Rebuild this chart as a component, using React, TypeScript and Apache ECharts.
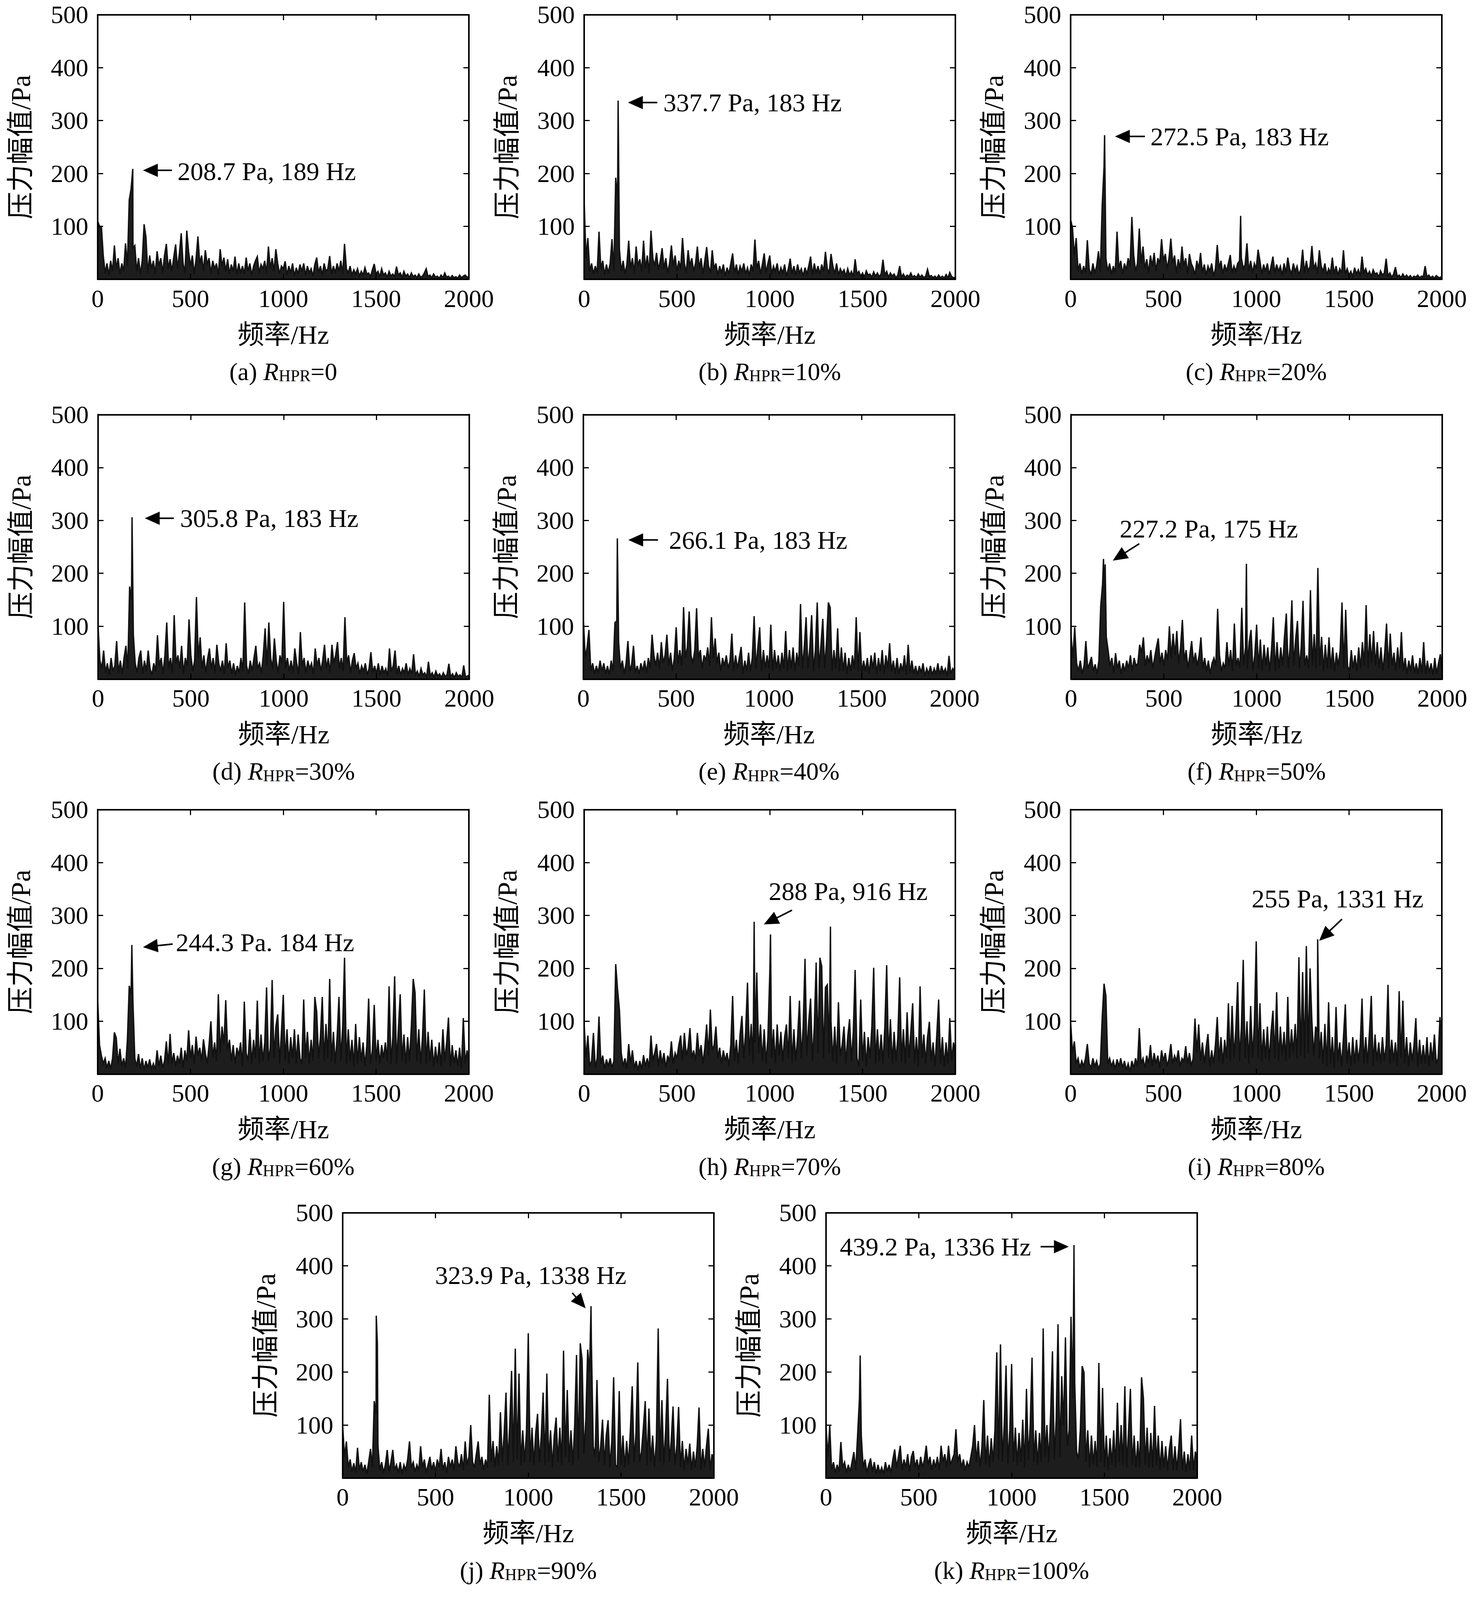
import React, { useEffect, useRef } from "react";
import * as echarts from "echarts";

const SERIF = "'Liberation Serif', 'Times New Roman', 'Noto Sans CJK SC', serif";
const X_NAME = "频率/Hz";
const Y_NAME = "压力幅值/Pa";
const X_TICKS = [0, 500, 1000, 1500, 2000];
const Y_TICKS = [0, 100, 200, 300, 400, 500];
const FREQ_STEP = 10; // spectrum sampled every 10 Hz, 0..2000 Hz

// ---- spectrum amplitudes (Pa), one value per 10 Hz ----
const ampA = [
  110,100,100,45,12,30,8,35,15,64,
  20,40,10,30,15,68,25,150,171,60,
  64,15,40,10,35,104,80,12,45,20,
  35,10,53,25,40,12,45,67,20,38,
  15,42,66,20,48,87,30,12,92,52,
  25,45,10,38,81,30,45,15,55,28,
  40,12,35,20,30,8,57,25,41,15,
  38,10,28,15,43,8,30,12,25,10,
  41,15,30,8,25,35,43,12,28,20,
  35,12,62,20,40,15,57,30,10,25,
  20,34,8,25,12,30,6,22,10,28,
  15,30,8,25,12,20,6,28,41,12,
  25,8,30,15,20,44,10,25,12,30,
  15,35,10,67,20,12,25,8,18,10,
  20,6,15,8,22,10,12,5,18,29,
  10,15,5,20,8,12,4,15,6,10,
  5,24,8,12,4,15,6,10,3,12,
  5,8,3,10,4,6,12,20,5,8,
  3,10,4,6,2,8,3,12,4,6,
  2,7,3,5,2,8,3,6,8,4,
  5,
];
const peaksA = [[189, 208.7]];

const ampB = [
  148,40,78,15,30,10,25,12,90,20,
  35,8,28,12,30,76,15,192,150,57,
  15,35,10,28,73,20,40,12,62,25,
  38,15,73,20,45,12,92,40,25,50,
  18,35,59,20,40,12,30,64,25,45,
  15,35,20,78,30,12,55,25,40,15,
  30,62,20,40,10,35,61,25,12,55,
  20,30,8,25,12,28,6,22,10,30,
  49,12,28,8,25,15,30,10,22,8,
  28,15,75,20,35,10,28,49,12,30,
  45,10,25,15,30,8,22,12,28,6,
  20,39,10,25,8,28,12,20,6,22,
  10,25,43,8,30,12,25,10,28,15,
  52,20,12,48,25,10,30,8,20,12,
  18,6,20,8,15,5,38,10,15,6,
  12,4,16,8,10,4,14,6,12,5,
  10,37,8,15,4,12,6,10,3,8,
  25,4,10,3,8,5,12,4,7,3,
  10,4,8,3,6,19,5,7,3,6,
  2,8,3,6,2,9,3,13,5,3,
  4,
];
const peaksB = [[183, 337.7]];

const ampC = [
  113,97,45,78,15,30,10,25,12,74,
  20,8,30,12,25,53,15,139,213,40,
  15,30,10,25,12,90,20,35,10,30,
  18,40,25,118,45,15,30,96,30,62,
  20,38,12,45,25,50,15,40,30,76,
  35,48,20,40,77,30,45,12,38,20,
  62,25,40,10,48,30,22,8,35,20,
  50,12,28,8,25,15,30,6,20,65,
  20,35,10,28,15,30,46,12,25,15,
  30,35,40,20,28,68,15,35,12,30,
  20,56,35,10,28,15,30,8,25,43,
  12,28,15,25,8,30,12,41,20,10,
  30,15,25,8,20,56,12,35,15,25,
  63,20,30,12,55,25,15,30,8,20,
  12,41,10,25,8,20,12,55,10,20,
  8,15,5,22,10,18,6,43,12,20,
  8,15,5,18,10,12,4,16,8,12,
  39,6,12,4,10,23,5,8,3,10,
  4,8,3,7,2,6,4,8,3,6,
  5,25,4,8,3,6,2,7,4,3,
  6,
];
const peaksC = [[183, 272.5], [916, 120]];

const ampD = [
  100,35,20,54,12,30,8,40,15,25,
  72,12,35,10,40,63,20,175,150,84,
  30,12,40,54,10,35,15,54,20,8,
  30,15,83,25,40,10,45,107,20,40,
  12,121,30,45,20,63,10,40,25,113,
  45,15,35,155,40,79,20,45,12,38,
  58,20,40,12,65,30,15,35,10,68,
  20,35,10,30,8,25,12,40,15,145,
  25,10,35,15,40,63,20,30,12,45,
  96,25,107,40,20,77,35,12,45,30,
  146,20,40,15,35,12,58,30,10,89,
  25,40,12,35,20,30,10,58,25,40,
  15,35,65,20,40,12,65,30,45,70,
  20,40,15,117,30,45,12,35,49,20,
  30,10,25,15,30,8,20,51,12,25,
  10,30,8,25,12,20,6,58,15,25,
  54,10,25,8,20,12,30,8,20,10,
  47,8,15,5,20,8,12,4,33,6,
  12,4,15,6,10,3,12,5,8,29,
  4,10,3,12,5,8,3,26,4,6,
  8,
];
const peaksD = [[183, 305.8]];

const ampE = [
  114,40,60,93,15,30,10,25,12,35,
  15,30,10,25,8,35,15,107,110,70,
  20,35,10,30,72,15,28,63,12,25,
  10,30,15,35,12,40,20,84,45,25,
  50,20,70,30,45,84,25,50,15,40,
  98,30,55,25,136,40,60,128,45,30,
  55,134,40,55,20,45,35,60,25,117,
  40,77,30,50,15,40,25,45,20,35,
  86,15,45,20,40,61,10,35,15,50,
  15,40,119,20,60,98,15,55,20,45,
  20,103,15,55,20,45,15,50,20,91,
  15,55,20,60,15,50,25,142,20,60,
  117,20,60,121,15,55,145,20,65,114,
  20,70,145,135,15,55,20,96,15,60,
  15,50,10,40,15,45,20,117,15,89,
  10,35,15,40,10,45,20,50,10,40,
  15,55,10,45,20,68,15,35,10,40,
  10,30,15,45,8,65,12,35,10,25,
  8,25,12,30,6,20,10,25,8,20,
  10,30,8,25,12,20,6,44,10,20,
  15,
];
const peaksE = [[183, 266.1]];

const ampF = [
  84,40,98,30,15,35,10,25,72,20,
  30,42,15,28,10,35,138,180,150,80,
  54,25,40,12,49,20,35,10,30,15,
  35,20,45,15,40,25,30,65,50,79,
  25,45,30,55,20,40,60,77,30,50,
  25,55,35,100,40,86,45,91,30,60,
  112,35,55,20,45,72,30,50,25,45,
  79,20,40,15,35,10,30,40,25,133,
  45,15,30,20,70,25,55,15,105,25,
  40,20,135,25,60,20,70,93,15,45,
  103,20,75,15,65,25,60,15,55,117,
  15,70,20,60,25,80,124,20,60,149,
  25,75,110,20,60,148,25,45,20,168,
  25,85,20,210,25,80,15,65,20,79,
  20,60,15,50,25,55,145,20,131,25,
  15,55,20,45,15,60,20,70,25,140,
  20,85,30,91,25,70,20,60,15,50,
  105,20,86,25,50,15,60,20,89,15,
  40,10,35,15,45,12,30,10,40,12,
  70,10,35,12,30,8,40,10,30,47,
  15,
];
const peaksF = [[175, 227.2], [184, 217], [945, 218]];

const ampG = [
  141,55,35,20,30,12,25,10,30,79,
  69,20,48,15,30,12,64,167,150,136,
  30,15,38,10,30,8,25,12,28,10,
  20,8,45,15,35,12,25,62,18,76,
  20,40,15,35,20,50,12,45,25,83,
  30,55,20,71,35,50,25,66,40,20,
  55,100,30,60,25,151,40,90,55,140,
  45,65,25,55,20,50,35,60,15,137,
  40,25,85,20,65,30,139,20,75,25,
  60,164,25,50,178,30,90,113,20,80,
  150,25,85,20,70,30,85,20,75,30,
  20,141,30,80,20,65,25,146,118,30,
  70,146,25,95,30,180,25,80,20,70,
  146,25,90,220,20,85,25,65,15,95,
  20,70,25,60,15,55,143,20,45,131,
  25,65,20,55,30,60,25,166,20,70,
  185,20,85,151,25,75,20,70,25,90,
  180,154,25,85,20,70,160,20,80,25,
  65,15,52,20,60,15,85,25,60,107,
  15,55,20,45,15,50,10,106,20,45,
  20,
];
const peaksG = [[184, 244.3]];

const ampH = [
  94,30,73,15,25,78,12,30,109,20,
  35,10,28,15,30,12,25,208,160,122,
  40,15,30,10,57,20,45,12,25,8,
  25,10,36,15,30,12,73,25,40,57,
  15,45,20,40,12,35,25,62,20,40,
  30,55,73,25,78,35,50,87,30,45,
  25,78,35,55,20,50,94,35,122,45,
  55,90,30,50,20,45,25,40,15,55,
  148,25,65,20,75,110,30,80,173,35,
  95,20,60,192,40,94,25,85,20,70,
  190,30,85,20,94,35,80,25,70,94,
  30,148,20,85,25,70,139,30,90,218,
  35,100,143,25,90,211,40,220,204,30,
  164,169,40,100,25,90,20,136,35,55,
  90,20,70,104,25,80,197,30,15,141,
  25,80,15,70,30,90,201,20,85,25,
  75,20,90,206,30,104,20,80,25,70,
  183,25,85,20,117,30,80,134,20,70,
  15,166,30,75,20,70,99,25,60,15,
  75,141,20,70,15,60,20,106,25,60,
  30,
];
const peaksH = [[916, 288], [1004, 264], [1327, 279]];

const ampI = [
  99,40,62,20,30,12,25,15,30,57,
  20,12,30,15,25,10,20,106,171,148,
  20,30,15,25,10,28,15,30,12,25,
  8,20,5,25,12,30,15,87,20,30,
  12,35,20,55,15,40,20,35,12,45,
  25,40,15,30,57,20,35,25,45,15,
  30,25,53,20,40,15,30,105,40,94,
  25,60,20,50,76,15,45,20,55,108,
  25,70,20,65,30,134,25,129,30,85,
  174,25,90,216,30,100,20,129,30,95,
  251,30,134,25,85,30,90,25,80,120,
  30,155,25,90,35,80,25,146,30,85,
  40,95,30,221,35,193,30,242,40,200,
  100,35,90,80,30,80,20,95,15,136,
  20,70,10,127,25,60,15,70,132,20,
  60,15,70,20,65,25,55,143,20,70,
  20,80,148,15,75,25,60,20,70,25,
  55,169,20,65,25,60,15,157,30,139,
  20,70,15,60,25,55,106,15,65,20,
  55,20,70,15,60,25,75,20,30,108,
  40,
];
const peaksI = [[1331, 255]];

const ampJ = [
  98,40,69,20,35,12,28,10,57,15,
  30,12,25,8,30,55,20,145,120,62,
  15,30,10,25,53,12,30,53,15,25,
  10,30,8,25,15,35,69,20,30,12,
  25,15,60,20,35,10,25,40,15,30,
  12,35,20,55,15,30,10,40,20,35,
  15,60,30,20,45,15,69,25,40,100,
  30,20,45,69,25,40,15,35,20,157,
  30,70,20,60,25,124,30,85,161,25,
  100,202,30,244,35,197,25,90,30,85,
  273,30,95,25,85,121,30,80,161,25,
  197,30,90,20,80,114,30,95,25,240,
  40,166,30,90,25,100,232,35,254,223,
  45,110,242,200,256,60,40,185,30,60,
  110,25,80,109,20,70,190,25,20,164,
  25,80,20,70,25,90,173,30,85,218,
  30,50,95,145,25,131,30,80,20,70,
  282,30,147,25,90,187,30,70,135,25,
  60,134,20,70,15,55,25,65,15,50,
  20,60,133,15,55,20,60,93,15,45,
  30,
];
const peaksJ = [[181, 306], [187, 254], [1338, 323.9]];

const ampK = [
  99,40,99,15,30,10,25,12,68,20,
  30,10,25,12,30,49,15,80,150,80,
  20,35,10,25,37,12,30,8,25,10,
  20,8,30,12,25,10,35,54,20,40,
  61,15,35,20,45,12,40,51,20,35,
  15,40,20,35,61,25,40,15,35,20,
  40,15,61,30,45,20,61,25,35,45,
  92,30,45,20,35,15,30,20,40,60,
  100,30,70,20,60,147,25,80,20,75,
  30,90,237,35,252,30,100,212,25,90,
  215,30,95,25,85,30,110,20,168,35,
  100,227,30,90,25,85,30,282,40,100,
  30,120,239,35,110,290,40,192,100,265,
  60,90,304,150,180,50,35,90,211,199,
  30,90,20,80,25,70,20,217,30,170,
  20,80,15,75,25,90,20,142,30,100,
  25,173,20,90,168,25,80,20,70,20,
  190,151,25,95,20,85,20,136,25,80,
  15,70,20,60,15,55,80,15,60,15,
  55,111,15,50,12,45,15,80,15,50,
  30,
];
const peaksK = [[184, 231], [1336, 439.2]];

// ---- annotations: [tailHz, tailPa, tipHz, tipPa, textHz, textPa] ----
const annTexts = [
  "208.7 Pa, 189 Hz", "337.7 Pa, 183 Hz", "272.5 Pa, 183 Hz",
  "305.8 Pa, 183 Hz", "266.1 Pa, 183 Hz", "227.2 Pa, 175 Hz",
  "244.3 Pa. 184 Hz", "288 Pa, 916 Hz", "255 Pa, 1331 Hz",
  "323.9 Pa, 1338 Hz", "439.2 Pa, 1336 Hz",
];
const annPos = [
  [400, 206, 244, 206, 430, 204],
  [394, 334, 236, 334, 427, 334],
  [400, 270, 239, 270, 430, 270],
  [408, 304, 252, 304, 442, 304],
  [402, 263, 242, 263, 461, 263],
  [368, 256, 225, 224, 262, 284],
  [404, 246, 244, 240, 421, 249],
  [1120, 310, 968, 283, 994, 346],
  [1462, 293, 1339, 252, 975, 332],
  [1237, 349, 1309, 320, 498, 382],
  [1156, 436, 1308, 436, 74, 436],
];

// ---- captions ----
const captionTags = ["(a)", "(b)", "(c)", "(d)", "(e)", "(f)", "(g)", "(h)", "(i)", "(j)", "(k)"];
const captionRatios = ["0", "10%", "20%", "30%", "40%", "50%", "60%", "70%", "80%", "90%", "100%"];

const amps = [ampA, ampB, ampC, ampD, ampE, ampF, ampG, ampH, ampI, ampJ, ampK];
const peaks = [peaksA, peaksB, peaksC, peaksD, peaksE, peaksF, peaksG, peaksH, peaksI, peaksJ, peaksK];

// ---- layout (px, in the 3780 x 4309 reference frame) ----
const PAGE_W = 3780;
const PAGE_H = 4309;
const PW = 950;
const LAYOUT = [
  { left: 250, top: 40, h: 718 },
  { left: 1495, top: 40, h: 718 },
  { left: 2740, top: 40, h: 718 },
  { left: 251, top: 1125, h: 718 },
  { left: 1493, top: 1125, h: 718 },
  { left: 2741, top: 1125, h: 718 },
  { left: 250, top: 2197, h: 718 },
  { left: 1495, top: 2197, h: 718 },
  { left: 2740, top: 2197, h: 718 },
  { left: 877, top: 3291, h: 720 },
  { left: 2114, top: 3291, h: 720 },
];

function buildSpectrum(amp: number[], pk: number[][]) {
  const pts = amp.map((v, i) => [i * FREQ_STEP, v]);
  pk.forEach((p) => pts.push([p[0], p[1]]));
  pts.sort((a, b) => a[0] - b[0]);
  return pts;
}

function makeAnnotation(text: string) {
  return (params: any, api: any) => {
    const tail = api.coord([api.value(0), api.value(1)]);
    const tip = api.coord([api.value(2), api.value(3)]);
    const tp = api.coord([api.value(4), api.value(5)]);
    const dx = tip[0] - tail[0];
    const dy = tip[1] - tail[1];
    const len = Math.sqrt(dx * dx + dy * dy) || 1;
    const ux = dx / len;
    const uy = dy / len;
    const hl = 38;
    const hw = 17;
    const bx = tip[0] - ux * hl;
    const by = tip[1] - uy * hl;
    const px = -uy;
    const py = ux;
    return {
      type: "group",
      children: [
        {
          type: "line",
          shape: { x1: tail[0], y1: tail[1], x2: bx + ux * 4, y2: by + uy * 4 },
          style: { stroke: "#000", lineWidth: 4 },
        },
        {
          type: "polygon",
          shape: {
            points: [
              [tip[0], tip[1]],
              [bx + px * hw, by + py * hw],
              [bx - px * hw, by - py * hw],
            ],
          },
          style: { fill: "#000" },
        },
        {
          type: "text",
          x: tp[0],
          y: tp[1],
          style: {
            text,
            fill: "#000",
            fontSize: 66,
            fontFamily: SERIF,
            align: "left",
            verticalAlign: "middle",
          },
        },
      ],
    };
  };
}

const RICH = {
  n: { fontSize: 64, fontFamily: SERIF, fill: "#000", lineHeight: 80, verticalAlign: "bottom" },
  i: { fontSize: 64, fontFamily: SERIF, fontStyle: "italic", fill: "#000", lineHeight: 80, verticalAlign: "bottom" },
  s: { fontSize: 42, fontFamily: SERIF, fill: "#000", lineHeight: 40, verticalAlign: "bottom" },
};

function buildOption(sy: number) {
  const grid: any[] = [];
  const xAxis: any[] = [];
  const yAxis: any[] = [];
  const series: any[] = [];
  const graphic: any[] = [];
  const lineStyle = { color: "#000", width: 4 };
  const tickStyle = { color: "#000", width: 3 };
  const labelStyle = { fontSize: 64, fontFamily: SERIF, color: "#000" };

  LAYOUT.forEach((L, i) => {
    const top = L.top * sy;
    const h = L.h * sy;
    grid.push({ left: L.left, top, width: PW, height: h, containLabel: false });
    const xBase = {
      gridIndex: i, type: "value", min: X_TICKS[0], max: X_TICKS[X_TICKS.length - 1],
      interval: X_TICKS[1] - X_TICKS[0], splitLine: { show: false },
    };
    const yBase = {
      gridIndex: i, type: "value", min: Y_TICKS[0], max: Y_TICKS[Y_TICKS.length - 1],
      interval: Y_TICKS[1] - Y_TICKS[0], splitLine: { show: false },
    };
    xAxis.push({
      ...xBase, position: "bottom",
      axisLine: { show: true, onZero: false, lineStyle },
      axisTick: { show: true, inside: true, length: 14, lineStyle: tickStyle },
      axisLabel: { show: true, margin: 18 * sy, ...labelStyle, formatter: (v: number) => String(v) },
      name: X_NAME, nameLocation: "middle", nameGap: 114 * sy,
      nameTextStyle: { ...labelStyle, fontSize: 68 },
      z: 3,
    });
    xAxis.push({
      ...xBase, position: "top",
      axisLine: { show: true, onZero: false, lineStyle },
      axisTick: { show: true, inside: true, length: 14, lineStyle: tickStyle },
      axisLabel: { show: false },
      z: 3,
    });
    yAxis.push({
      ...yBase, position: "left",
      axisLine: { show: true, onZero: false, lineStyle },
      axisTick: { show: true, inside: true, length: 14, lineStyle: tickStyle },
      axisLabel: {
        show: true, margin: 24, ...labelStyle,
        formatter: (v: number) => (v === 0 ? "" : String(v)),
      },
      name: Y_NAME, nameLocation: "middle", nameGap: 162,
      nameTextStyle: { ...labelStyle, fontSize: 70 },
      z: 3,
    });
    yAxis.push({
      ...yBase, position: "right",
      axisLine: { show: true, onZero: false, lineStyle },
      axisTick: { show: true, inside: true, length: 14, lineStyle: tickStyle },
      axisLabel: { show: false },
      z: 3,
    });
    series.push({
      type: "line",
      xAxisIndex: 2 * i,
      yAxisIndex: 2 * i,
      data: buildSpectrum(amps[i], peaks[i]),
      showSymbol: false,
      symbol: "none",
      lineStyle: { color: "#111", width: 3.5, join: "miter" },
      areaStyle: { color: "#111", opacity: 0.95, origin: "start" },
      silent: true,
      z: 2,
    });
    series.push({
      type: "custom",
      xAxisIndex: 2 * i,
      yAxisIndex: 2 * i,
      data: [annPos[i]],
      renderItem: makeAnnotation(annTexts[i]),
      clip: false,
      silent: true,
      z: 5,
    });
    graphic.push({
      type: "text",
      x: L.left + PW / 2,
      y: top + h + 242 * sy,
      style: {
        text: `{n|${captionTags[i]} }{i|R}{s|HPR}{n|=${captionRatios[i]}}`,
        rich: RICH,
        align: "center",
        verticalAlign: "middle",
      },
    });
  });

  return {
    animation: false,
    backgroundColor: "#fff",
    grid,
    xAxis,
    yAxis,
    series,
    graphic,
  };
}

// The photographed viewport can be shorter than the page; fit the figure into it.
function viewportScale() {
  const vh = typeof window !== "undefined" && window.innerHeight ? window.innerHeight : PAGE_H;
  return Math.min(1, vh / PAGE_H, 4065 / PAGE_H);
}

export default function App() {
  const ref = useRef<HTMLDivElement>(null);
  const sy = viewportScale();
  useEffect(() => {
    document.body.style.margin = "0";
    document.body.style.background = "#fff";
    if (!ref.current) return;
    const chart = echarts.init(ref.current, null, { renderer: "svg" });
    chart.setOption(buildOption(sy) as any);
    return () => chart.dispose();
  }, []);
  return (
    <div
      ref={ref}
      style={{ position: "relative", width: PAGE_W, height: Math.floor(PAGE_H * sy), background: "#fff", overflow: "hidden" }}
    />
  );
}
